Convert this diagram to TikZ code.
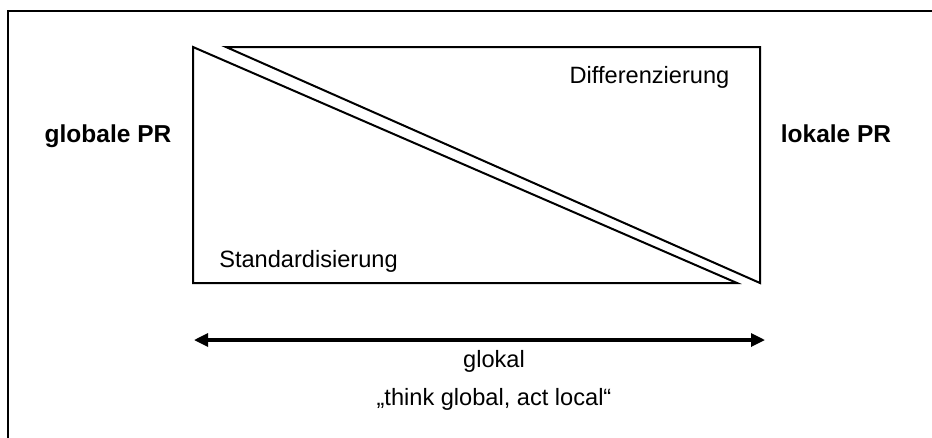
\documentclass[tikz,border=0pt]{standalone}
\usepackage{fontspec}
\setmainfont{Liberation Sans}
\usetikzlibrary{arrows.meta}
\begin{document}
\begin{tikzpicture}[x=1pt,y=-1pt,
  shape line/.style={line width=2pt, line join=miter},
  label text/.style={font=\fontsize{23.6}{28}\selectfont, inner sep=0pt, anchor=base},
  side text/.style={font=\fontsize{24.5}{29}\selectfont\bfseries, inner sep=0pt, anchor=base},
  axis arrow/.style={line width=3.2pt, {Triangle[length=14pt,width=13pt]}-{Triangle[length=14pt,width=13pt]}}]
\useasboundingbox (0,0) rectangle (932,437);
\fill[white] (0,0) rectangle (932,437);
% frame
\draw[line width=2pt] (7.5,440) -- (7.5,10.5) -- (935,10.5);
% coordinates
\coordinate (lt) at (193,47);
\coordinate (lb) at (193,283);
\coordinate (lr) at (737,283);
\coordinate (ul) at (226,47);
\coordinate (ur) at (760,47);
\coordinate (ub) at (760,283);
% lower triangle (Standardisierung)
\draw[shape line] (lt) -- (lb) -- (lr) -- cycle;
% upper triangle (Differenzierung)
\draw[shape line] (ul) -- (ur) -- (ub) -- cycle;
% texts
\node[label text] (diff) at (649.5,83) {Differenzierung};
\node[label text] (std) at (308.5,267) {Standardisierung};
\node[side text] (glob) at (108,142) {globale PR};
\node[side text] (lok) at (836,142) {lokale PR};
% arrow
\coordinate (al) at (194,340);
\coordinate (ar) at (765,340);
\draw[axis arrow] (al) -- (ar);
\node[label text] (glokal) at (494,367) {glokal};
\node[label text] (motto) at (494,405) {„think global, act local“};
\end{tikzpicture}
\end{document}
